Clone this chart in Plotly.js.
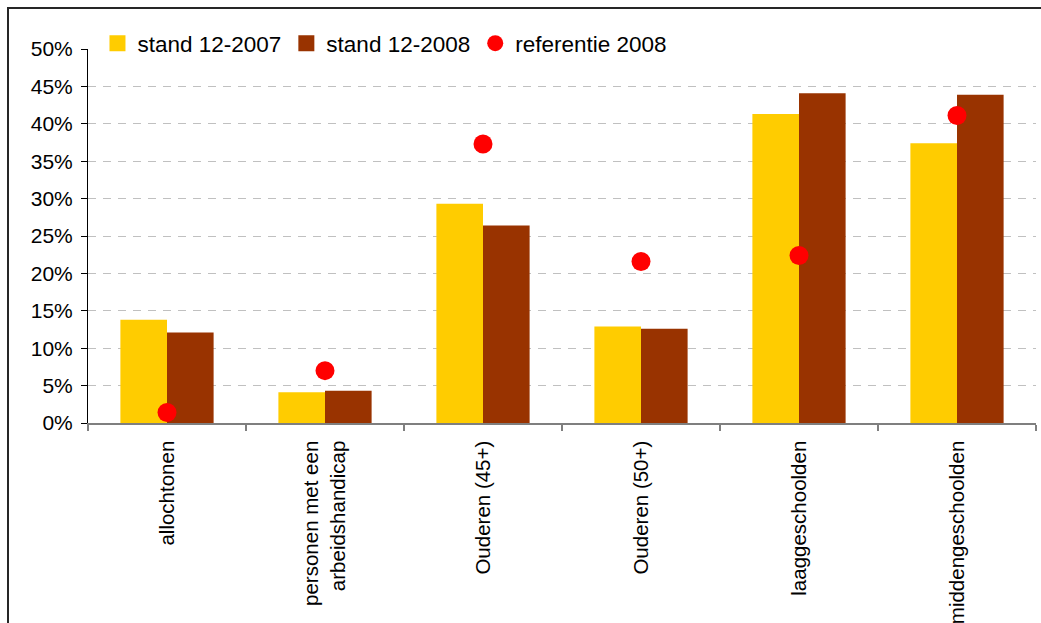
<!DOCTYPE html>
<html>
<head>
<meta charset="utf-8">
<script src="https://cdn.plot.ly/plotly-3.0.1.min.js"></script>
<style>
  html, body { margin: 0; padding: 0; background: #fff; overflow: hidden; }
  #wrap { position: relative; width: 1041px; height: 623px; }
  #chart { position: absolute; left: 0; top: 0; width: 1041px; height: 623px; }
  #frame { position: absolute; left: 7px; top: 7px; width: 1100px; height: 700px;
           border: 2px solid #262626; pointer-events: none; box-sizing: border-box; }
</style>
</head>
<body>
<div id="wrap">
  <div id="chart"></div>
  <div id="frame"></div>
</div>
<script>
// Doelgroepen: aandeel per groep
const categories = [
  'allochtonen',
  'personen met een<br>arbeidshandicap',
  'Ouderen (45+)',
  'Ouderen (50+)',
  'laaggeschoolden',
  'middengeschoolden'
];
const stand2007 = [0.138, 0.041, 0.293, 0.129, 0.413, 0.374];
const stand2008 = [0.121, 0.043, 0.264, 0.126, 0.441, 0.439];
const referentie2008 = [0.014, 0.070, 0.373, 0.216, 0.224, 0.411];

const seriesNames = ['stand 12-2007', 'stand 12-2008', 'referentie 2008'];
const yTickValues = [0, 0.05, 0.10, 0.15, 0.20, 0.25, 0.30, 0.35, 0.40, 0.45, 0.50];

const YELLOW = '#FFCC00';
const BROWN = '#993300';
const RED = '#FF0000';
const FONT = '"Liberation Sans", Arial, sans-serif';

const traces = [
  { type: 'bar', x: categories, y: stand2007, name: seriesNames[0],
    marker: { color: YELLOW }, showlegend: false, hoverinfo: 'y' },
  { type: 'bar', x: categories, y: stand2008, name: seriesNames[1],
    marker: { color: BROWN }, showlegend: false, hoverinfo: 'y' },
  { type: 'scatter', mode: 'markers', x: categories, y: referentie2008, name: seriesNames[2],
    marker: { color: RED, size: 19 }, showlegend: false, hoverinfo: 'y' },
  // legend entries (square swatches for the bar series, dot for the reference)
  { type: 'scatter', mode: 'markers', x: [null], y: [null], name: seriesNames[0],
    marker: { color: YELLOW, symbol: 'square', size: 16 } },
  { type: 'scatter', mode: 'markers', x: [null], y: [null], name: seriesNames[1],
    marker: { color: BROWN, symbol: 'square', size: 16 } },
  { type: 'scatter', mode: 'markers', x: [null], y: [null], name: seriesNames[2],
    marker: { color: RED, symbol: 'circle', size: 16 } }
];

const layout = {
  width: 1041, height: 623,
  margin: { l: 88, r: 5, t: 49, b: 200, pad: 0 },
  paper_bgcolor: '#ffffff', plot_bgcolor: '#ffffff',
  font: { family: FONT, color: '#000000', size: 20 },
  barmode: 'group', bargap: 0.41, bargroupgap: 0,
  showlegend: true,
  legend: {
    orientation: 'h', x: 0.01, xanchor: 'left', y: 1.072, yanchor: 'top',
    bgcolor: '#ffffff', font: { size: 22.5, family: FONT, color: '#000' },
    itemwidth: 30, tracegroupgap: 0, traceorder: 'normal',
    itemclick: false, itemdoubleclick: false
  },
  xaxis: {
    type: 'category', tickangle: -90, tickson: 'boundaries',
    ticks: 'outside', ticklen: 6, tickcolor: '#7f7f7f', tickwidth: 1.5,
    showline: true, linecolor: '#7f7f7f', linewidth: 1.5,
    showgrid: false, zeroline: false, fixedrange: true, ticklabelstandoff: 8,
    tickfont: { size: 20.5, family: FONT, color: '#000' }
  },
  yaxis: {
    range: [0, 0.5], tickvals: yTickValues, tickformat: '.0%',
    ticks: 'outside', ticklen: 6, tickcolor: '#000', tickwidth: 1,
    showline: true, linecolor: '#000', linewidth: 1,
    showgrid: true, gridcolor: '#c0c0c0', gridwidth: 1, griddash: '8px,7px',
    zeroline: false, fixedrange: true, ticklabelstandoff: 4,
    tickfont: { size: 21, family: FONT, color: '#000' }
  }
};

Plotly.newPlot('chart', traces, layout, { displayModeBar: false, staticPlot: true });
</script>
</body>
</html>
